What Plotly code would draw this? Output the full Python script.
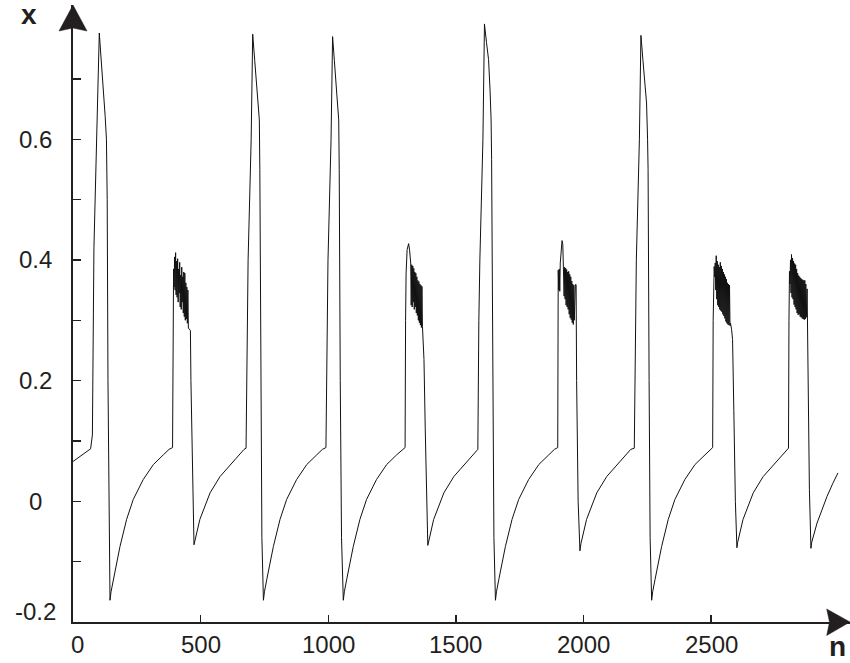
import plotly.graph_objects as go

# ---------------- data ----------------
# smooth parts: (n, x) key points
start_n = [0, 35, 69, 76, 79, 80, 82, 103, 111, 119, 126, 131, 134, 137, 141, 145]
start_x = [0.066, 0.077, 0.087, 0.11, 0.34, 0.355, 0.42, 0.776, 0.731, 0.688, 0.638, 0.60, 0.50, 0.20, -0.06, -0.164]

rec1_n = [149, 158, 171, 184, 210, 236, 275, 315, 354, 376, 390]
rec1_x = [-0.150, -0.130, -0.100, -0.075, -0.030, 0.003, 0.036, 0.061, 0.077, 0.086, 0.089]

burst1_up_n = [392]
burst1_up_x = [0.36]
burst1_start, burst1_step = 394, 2
burst1_x = [0.385, 0.355, 0.405, 0.350, 0.412, 0.342, 0.398, 0.338, 0.402, 0.330,
            0.385, 0.345, 0.396, 0.322, 0.375, 0.318, 0.388, 0.330, 0.372, 0.312,
            0.380, 0.306, 0.378, 0.300, 0.362, 0.302, 0.355, 0.295, 0.350, 0.287]
burst1_down_n = [456, 460, 462, 468, 474]
burst1_down_x = [0.285, 0.283, 0.20, 0.02, -0.072]

rec2_n = [497, 537, 576, 628, 670, 678]
rec2_x = [-0.030, 0.014, 0.041, 0.066, 0.086, 0.088]

spike2_n = [682, 686, 698, 704, 712, 720, 726, 730, 732, 736, 740, 746]
spike2_x = [0.30, 0.40, 0.60, 0.774, 0.73, 0.688, 0.655, 0.632, 0.55, 0.20, -0.06, -0.164]

rec3_n = [750, 759, 772, 785, 811, 837, 876, 916, 955, 977, 991]
rec3_x = [-0.150, -0.130, -0.100, -0.075, -0.030, 0.003, 0.036, 0.061, 0.077, 0.086, 0.089]

spike3_n = [995, 999, 1011, 1017, 1024, 1030, 1036, 1041, 1043, 1047, 1052, 1059]
spike3_x = [0.30, 0.40, 0.60, 0.770, 0.73, 0.688, 0.66, 0.632, 0.55, 0.20, -0.06, -0.164]

rec4_n = [1063, 1072, 1085, 1098, 1124, 1150, 1189, 1229, 1268, 1290, 1301]
rec4_x = [-0.150, -0.130, -0.100, -0.075, -0.030, 0.003, 0.036, 0.061, 0.077, 0.086, 0.089]

burst2_up_n = [1303, 1305, 1309, 1315, 1319, 1323]
burst2_up_x = [0.30, 0.378, 0.417, 0.427, 0.415, 0.395]
burst2_start, burst2_step = 1325, 2
burst2_x = [0.325, 0.392, 0.322, 0.390, 0.330, 0.386, 0.318, 0.380, 0.322, 0.378,
            0.312, 0.372, 0.308, 0.366, 0.300, 0.364, 0.296, 0.360, 0.292, 0.358,
            0.288, 0.356, 0.290]
burst2_down_n = [1372, 1375, 1380, 1385, 1390]
burst2_down_x = [0.27, 0.235, 0.12, 0.0, -0.073]

rec5_n = [1413, 1453, 1492, 1544, 1586]
rec5_x = [-0.030, 0.014, 0.041, 0.066, 0.086]

spike4_n = [1590, 1594, 1606, 1612, 1620, 1628, 1634, 1638, 1640, 1644, 1649, 1655]
spike4_x = [0.30, 0.40, 0.60, 0.791, 0.76, 0.732, 0.68, 0.632, 0.566, 0.20, -0.06, -0.164]

rec6_n = [1659, 1668, 1681, 1694, 1720, 1746, 1785, 1825, 1864, 1886, 1899]
rec6_x = [-0.150, -0.130, -0.100, -0.075, -0.030, 0.003, 0.036, 0.061, 0.077, 0.086, 0.089]

burst3_up_n = [1901, 1903, 1905, 1907, 1909, 1912, 1916, 1919, 1922]
burst3_up_x = [0.383, 0.350, 0.385, 0.348, 0.395, 0.420, 0.432, 0.425, 0.392]
burst3_start, burst3_step = 1924, 2
burst3_x = [0.340, 0.388, 0.335, 0.386, 0.325, 0.384, 0.322, 0.380, 0.318, 0.381,
            0.310, 0.376, 0.304, 0.372, 0.301, 0.365, 0.296, 0.360, 0.293, 0.358,
            0.300]
burst3_down_n = [1968, 1971, 1973, 1979, 1986]
burst3_down_x = [0.359, 0.359, 0.20, 0.0, -0.082]

rec7_n = [1990, 2012, 2052, 2091, 2143, 2185]
rec7_x = [-0.070, -0.030, 0.014, 0.041, 0.066, 0.086]

spike5_n = [2199, 2203, 2207, 2219, 2225, 2233, 2241, 2247, 2251, 2253, 2257, 2261, 2267]
spike5_x = [0.088, 0.30, 0.40, 0.60, 0.772, 0.73, 0.688, 0.66, 0.60, 0.55, 0.20, -0.06, -0.164]

rec8_n = [2271, 2280, 2293, 2306, 2332, 2358, 2397, 2437, 2476, 2498, 2506]
rec8_x = [-0.150, -0.130, -0.100, -0.075, -0.030, 0.003, 0.036, 0.061, 0.077, 0.086, 0.089]

burst4_up_n = [2508, 2510, 2512]
burst4_up_x = [0.30, 0.37, 0.389]
burst4_start, burst4_step = 2514, 2
burst4_x = [0.372, 0.395, 0.350, 0.407, 0.335, 0.398, 0.325, 0.392, 0.322, 0.388,
            0.318, 0.396, 0.316, 0.390, 0.314, 0.385, 0.310, 0.380, 0.307, 0.376,
            0.303, 0.372, 0.298, 0.368, 0.295, 0.362, 0.293, 0.360, 0.292, 0.358,
            0.291, 0.295]
burst4_down_n = [2580, 2584, 2589, 2595, 2601]
burst4_down_x = [0.285, 0.268, 0.15, 0.0, -0.077]

rec9_n = [2604, 2625, 2665, 2704, 2756, 2798, 2803]
rec9_x = [-0.068, -0.030, 0.014, 0.041, 0.066, 0.086, 0.088]

burst5_up_n = [2805, 2807, 2809, 2811, 2813, 2815]
burst5_up_x = [0.30, 0.381, 0.36, 0.400, 0.345, 0.409]
burst5_start, burst5_step = 2817, 2
burst5_x = [0.338, 0.403, 0.335, 0.398, 0.326, 0.394, 0.322, 0.392, 0.318, 0.385,
            0.312, 0.378, 0.309, 0.374, 0.310, 0.372, 0.306, 0.370, 0.305, 0.368,
            0.303, 0.367, 0.302, 0.366, 0.301, 0.366, 0.302, 0.360, 0.305]
burst5_down_n = [2876, 2879, 2885, 2891]
burst5_down_x = [0.352, 0.20, 0.02, -0.078]

end_n = [2894, 2915, 2954, 2977, 2997]
end_x = [-0.068, -0.036, 0.008, 0.030, 0.047]

x_tick_values = [0, 500, 1000, 1500, 2000, 2500]
x_tick_labels = ["0", "500", "1000", "1500", "2000", "2500"]
y_tick_values = [-0.2, 0, 0.2, 0.4, 0.6]
y_tick_labels = ["-0.2", "0", "0.2", "0.4", "0.6"]
y_minor_ticks = [-0.1, 0.1, 0.3, 0.5, 0.7]

# ---------------- assemble the series ----------------
def burst(start, step, vals):
    return [start + step * i for i in range(len(vals))], list(vals)

pieces = [
    (start_n, start_x), (rec1_n, rec1_x),
    (burst1_up_n, burst1_up_x), burst(burst1_start, burst1_step, burst1_x), (burst1_down_n, burst1_down_x),
    (rec2_n, rec2_x), (spike2_n, spike2_x), (rec3_n, rec3_x), (spike3_n, spike3_x), (rec4_n, rec4_x),
    (burst2_up_n, burst2_up_x), burst(burst2_start, burst2_step, burst2_x), (burst2_down_n, burst2_down_x),
    (rec5_n, rec5_x), (spike4_n, spike4_x), (rec6_n, rec6_x),
    (burst3_up_n, burst3_up_x), burst(burst3_start, burst3_step, burst3_x), (burst3_down_n, burst3_down_x),
    (rec7_n, rec7_x), (spike5_n, spike5_x), (rec8_n, rec8_x),
    (burst4_up_n, burst4_up_x), burst(burst4_start, burst4_step, burst4_x), (burst4_down_n, burst4_down_x),
    (rec9_n, rec9_x),
    (burst5_up_n, burst5_up_x), burst(burst5_start, burst5_step, burst5_x), (burst5_down_n, burst5_down_x),
    (end_n, end_x),
]
n_all, x_all = [], []
for pn, px in pieces:
    n_all += list(pn)
    x_all += list(px)

# ---------------- figure ----------------
W, H = 850, 663
L, R, T, B = 73, 0, 5, 41
PW, PH = W - L - R, H - T - B
X_PER_PX = 1 / 0.25525
Y_PER_PX = 1 / 603.5
x_range = [0, PW * X_PER_PX]
y_range = [-0.2, -0.2 + PH * Y_PER_PX]

def pxx(px):
    return (px - L) / PW

def pxy(py):
    return (H - B - py) / PH

AX = "#231f20"
FONT = "Liberation Sans, Arial, Helvetica, sans-serif"

fig = go.Figure()
fig.add_trace(go.Scatter(x=n_all, y=x_all, mode="lines",
                         line=dict(color="#111111", width=1), hoverinfo="skip",
                         showlegend=False))

fig.update_layout(
    width=W, height=H,
    margin=dict(l=L, r=R, t=T, b=B, pad=0),
    paper_bgcolor="white", plot_bgcolor="white",
    showlegend=False,
    xaxis=dict(range=x_range, showgrid=False, zeroline=False, showline=True,
               linecolor=AX, linewidth=2, ticks="inside", ticklen=7, tickwidth=1.3,
               tickcolor=AX, tickvals=x_tick_values[1:], showticklabels=False,
               automargin=False, fixedrange=True),
    yaxis=dict(range=y_range, showgrid=False, zeroline=False, showline=True,
               linecolor=AX, linewidth=2, ticks="inside", ticklen=8, tickwidth=1.3,
               tickcolor=AX, tickvals=sorted(y_tick_values + y_minor_ticks),
               showticklabels=False, automargin=False, fixedrange=True),
)

# arrow heads
y_arrow = [(59, 31), (73, 5), (87, 31), (73, 28)]
x_arrow = [(826.7, 609), (850, 622), (826.7, 635.5), (829.5, 622)]
for pts in (y_arrow, x_arrow):
    path = "M " + " L ".join(f"{pxx(a):.5f},{pxy(b):.5f}" for a, b in pts) + " Z"
    fig.add_shape(type="path", path=path, xref="paper", yref="paper",
                  fillcolor=AX, line=dict(color=AX, width=0.5), layer="above")

# tick labels
for v, t in zip(y_tick_values, y_tick_labels):
    fig.add_annotation(x=pxx(35), xref="paper", y=v, yref="y", text=t,
                       showarrow=False, xanchor="center", yanchor="middle",
                       yshift=11 if v == -0.2 else 0,
                       font=dict(family=FONT, size=24, color=AX))
for v, t in zip(x_tick_values, x_tick_labels):
    fig.add_annotation(x=v, xref="x", y=pxy(644), yref="paper", text=t,
                       showarrow=False, xanchor="center", yanchor="middle",
                       xshift=4 if v == 0 else 0,
                       font=dict(family=FONT, size=24, color=AX))

# axis names
fig.add_annotation(x=pxx(28.5), xref="paper", y=pxy(14), yref="paper", text="<b>x</b>",
                   showarrow=False, xanchor="center", yanchor="middle",
                   font=dict(family=FONT, size=28, color=AX))
fig.add_annotation(x=pxx(837), xref="paper", y=pxy(646), yref="paper", text="<b>n</b>",
                   showarrow=False, xanchor="center", yanchor="middle",
                   font=dict(family=FONT, size=28, color=AX))

fig.write_html("out.html",
               config={"displayModeBar": False, "staticPlot": True},
               post_script="document.body.style.margin='0px';"
                           "document.body.style.overflow='hidden';")
